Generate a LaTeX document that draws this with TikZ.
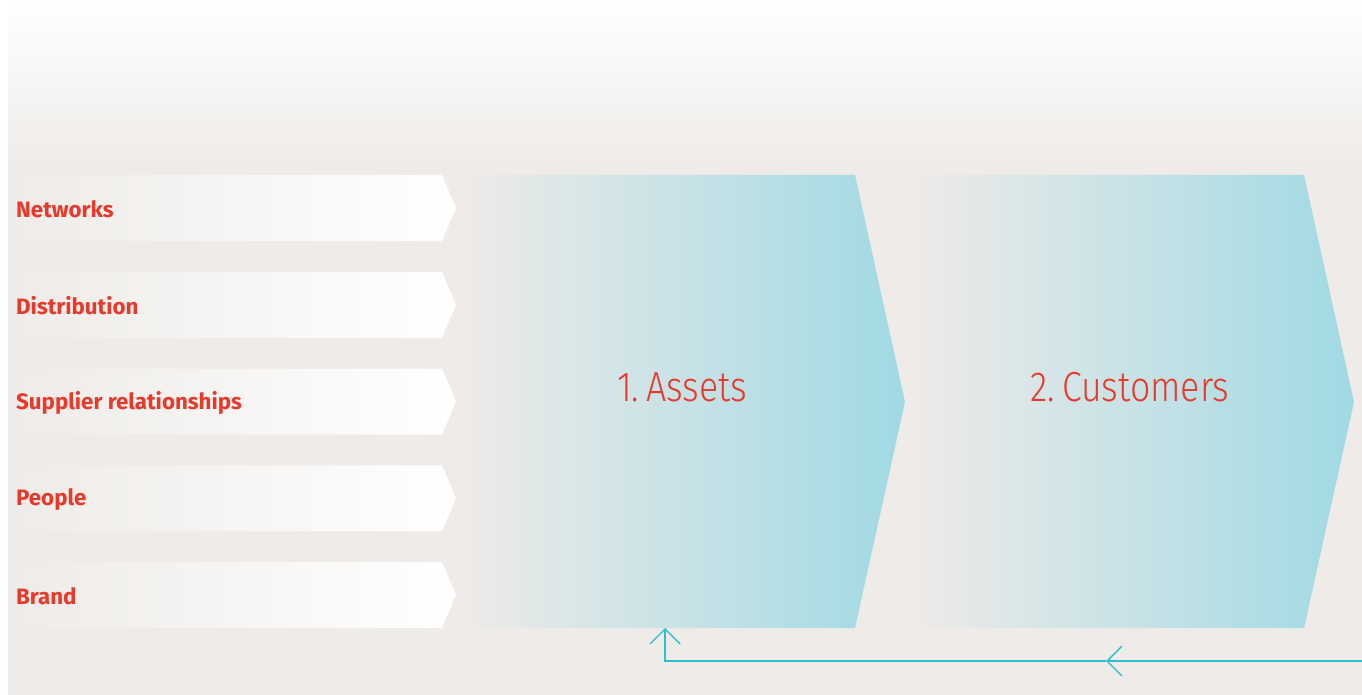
\documentclass[tikz,border=0pt]{standalone}
\usepackage{fontspec}
\setmainfont{Fira Sans}
\newfontfamily\lightfont[FakeStretch=0.85]{Fira Sans Light}
\usetikzlibrary{arrows.meta}
\definecolor{bgc}{HTML}{EEEBE8}
\definecolor{midc}{HTML}{CFE3E6}
\definecolor{cyanl}{HTML}{A0D9E4}
\definecolor{redt}{HTML}{E8392B}
\definecolor{fbline}{HTML}{2BBFD4}
\tikzset{
  lbl/.style={anchor=west, inner sep=0pt, text=redt, font=\fontsize{22.3}{26}\selectfont\bfseries},
  big/.style={inner sep=0pt, text=redt, font=\fontsize{42}{48}\lightfont},
  fb/.style={draw=fbline, line width=1.4pt},
  fbtip/.style={-{Straight Barb[length=15pt,width=30pt,line width=1.4pt]}}
}
\begin{document}
\begin{tikzpicture}[x=1pt,y=-1pt]
\useasboundingbox (0,0) rectangle (1362,695);
\fill[white] (0,0) rectangle (1362,695);
\fill[bgc] (8,0) rectangle (1362,695);
\shade[top color=white, bottom color=bgc] (8,0) rectangle (1362,172);
% left bars
\foreach \i/\t/\n in {0/Networks/networks,1/Distribution/distribution,2/Supplier relationships/supplier,3/People/people,4/Brand/brand}{
  \pgfmathsetmacro{\ya}{175+96.75*\i}
  \shade[left color=bgc, right color=white]
    (8,\ya) -- (442,\ya) -- (456,\ya+33) -- (442,\ya+66) -- (8,\ya+66) -- cycle;
  \node[lbl] (\n) at (16,\ya+34) {\t};
}
% chevrons
\shade[left color=bgc, middle color=midc, right color=cyanl]
  (462,175) -- (855,175) -- (905,402) -- (855,628) -- (462,628) -- cycle;
\shade[left color=bgc, middle color=midc, right color=cyanl]
  (912,175) -- (1304,175) -- (1354,402) -- (1304,628) -- (912,628) -- cycle;
\node[big] (assets) at (682,387) {1.\,Assets};
\node[big] (customers) at (1130,387) {2.\,Customers};
% feedback connector
\coordinate (fbR) at (1362,661);
\coordinate (fbM) at (1106,661);
\coordinate (fbC) at (665,661);
\coordinate (assetsIn) at (665,628);
\draw[fb, fbtip] (fbR) -- (fbM);
\draw[fb, fbtip] (fbM) -- (fbC) -- (assetsIn);
\end{tikzpicture}
\end{document}
